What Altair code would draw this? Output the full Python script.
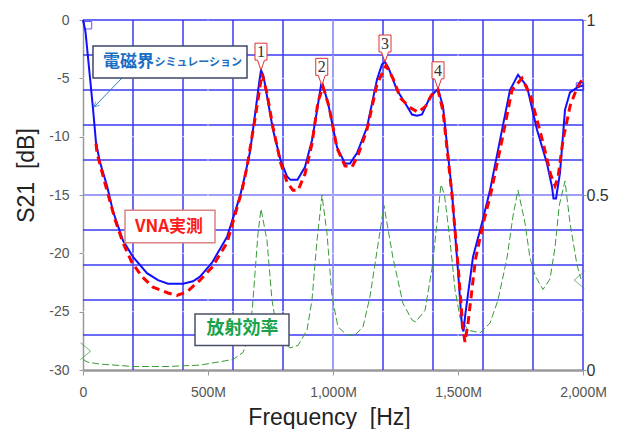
import altair as alt
import pandas as pd

# ---- Data ----
# Electromagnetic simulation (blue, S21 dB)
sim_f = [0, 10, 20, 30, 40, 52, 68, 96, 120, 160, 200, 256, 300, 340, 400, 440, 468, 516, 576,
         628, 648, 668, 690, 705, 712, 722, 740, 760, 790, 816, 830, 858, 888, 916, 935, 952,
         965, 980, 1016, 1048, 1068, 1096, 1136, 1176, 1196, 1208, 1222, 1256, 1296, 1316,
         1336, 1356, 1388, 1420, 1440, 1476, 1500, 1516, 1522, 1530, 1560, 1596, 1628, 1668,
         1708, 1740, 1776, 1816, 1856, 1876, 1882, 1892, 1908, 1928, 1948, 1976, 2000]
sim_db = [0, -1.0, -3.2, -5.4, -7.6, -10.5, -12.2, -14.2, -16.4, -18.9, -20.3, -21.7, -22.3,
          -22.6, -22.6, -22.4, -22.0, -20.8, -18.6, -15.1, -13.3, -11.3, -7.8, -5.3, -4.3,
          -4.8, -7.0, -9.4, -12.0, -13.4, -13.7, -13.7, -12.6, -10.3, -7.9, -5.6, -6.0, -7.1,
          -10.9, -12.3, -12.3, -11.4, -9.2, -5.1, -3.8, -3.6, -4.1, -6.0, -7.4, -8.1, -8.2,
          -8.1, -6.6, -5.9, -7.4, -14.8, -21.5, -26.3, -26.7, -25.1, -20.3, -17.4, -14.6,
          -10.3, -6.0, -4.7, -5.7, -9.4, -12.3, -14.3, -15.3, -15.3, -13.1, -7.7, -6.2, -5.8,
          -5.6]

# VNA measurement (red dashed, S21 dB) - visible from ~50 MHz
vna_f = [52, 56, 88, 128, 160, 196, 236, 280, 340, 376, 416, 468, 516, 576,
         636, 656, 690, 716, 735, 760, 790, 816, 840, 860, 888, 916, 940, 960, 985, 1016,
         1048, 1076, 1100, 1136, 1176, 1212, 1240, 1270, 1308, 1340, 1370, 1395, 1420, 1440,
         1476, 1500, 1520, 1528, 1540, 1570, 1600, 1630, 1676, 1716, 1756, 1790, 1840, 1870,
         1888, 1900, 1920, 1948, 1976, 2000]
vna_db = [-10.6, -11.4, -14.0, -17.1, -19.1, -20.8, -22.0, -22.9, -23.4,
          -23.6, -23.3, -22.3, -21.2, -19.1, -14.6, -12.6, -8.2, -4.6, -6.2, -9.2, -12.2,
          -13.9, -14.6, -14.6, -13.2, -10.6, -7.0, -5.7, -7.5, -11.0, -12.5, -12.6, -11.6,
          -9.4, -5.5, -3.9, -5.0, -6.7, -7.5, -7.9, -7.4, -6.4, -6.0, -7.8, -15.0, -21.0,
          -26.5, -27.6, -26.0, -20.5, -17.5, -15.0, -10.3, -6.0, -5.0, -6.5, -10.5, -13.2,
          -14.2, -13.5, -10.3, -7.4, -5.8, -5.0]

# Radiation efficiency (green dashed, right axis 0..1)
eff_f = [0, 20, 68, 200, 336, 468, 600, 640, 668, 680, 700, 712, 736, 756, 776, 800, 828,
         860, 896, 916, 936, 956, 976, 996, 1020, 1056, 1088, 1120, 1148, 1176, 1204, 1240,
         1280, 1316, 1330, 1368, 1396, 1416, 1432, 1446, 1468, 1488, 1508, 1540, 1588, 1628,
         1660, 1696, 1720, 1740, 1768, 1788, 1808, 1840, 1868, 1888, 1905, 1928, 1948, 1976,
         1992]
eff_v = [0.03, 0.022, 0.017, 0.01, 0.01, 0.014, 0.03, 0.05, 0.1, 0.2, 0.39, 0.46, 0.37, 0.2,
         0.114, 0.08, 0.063, 0.07, 0.114, 0.2, 0.37, 0.5, 0.39, 0.21, 0.123, 0.1, 0.1, 0.123,
         0.21, 0.34, 0.47, 0.32, 0.19, 0.143, 0.137, 0.17, 0.29, 0.42, 0.53, 0.5, 0.37, 0.23,
         0.15, 0.114, 0.106, 0.134, 0.2, 0.32, 0.44, 0.514, 0.42, 0.32, 0.27, 0.23, 0.26,
         0.35, 0.47, 0.54, 0.42, 0.30, 0.26]

# Axis ticks / grid
x_ticks = [0, 500, 1000, 1500, 2000]
y_ticks = [-30, -25, -20, -15, -10, -5, 0]
r_ticks = [0, 0.5, 1]
grid_f = [200, 400, 600, 800, 1000, 1200, 1400, 1600, 1800, 2000]
grid_db = [0, -3, -6, -9, -12, -15, -18, -21, -24, -27]
minor_f = [500, 1000, 1500]
minor_db = [-5, -10, -15, -20, -25]

# Peak callouts
peak_labels = ["1", "2", "3", "4"]
peak_f = [712, 955, 1208, 1420]
peak_db = [-4.3, -5.6, -3.6, -5.9]

# Series end markers
sim_mark_f = [20, 1988]
sim_mark_db = [-0.45, -5.7]
eff_mark_f = [10, 1985]
eff_mark_v = [0.054, 0.257]

# Annotation boxes (legend-like labels)
box_names = ["sim", "vna", "eff"]
box_f1 = [40, 168, 448]
box_f2 = [656, 528, 824]
box_db1 = [-2.23, -16.3, -25.2]
box_db2 = [-4.97, -19.1, -27.9]
arrow_f = [156]
arrow_f2 = [44]
arrow_db = [-4.97]
arrow_db2 = [-7.46]

# ---- Build chart ----
sim_df = pd.DataFrame({"f": sim_f, "db": sim_db})
vna_df = pd.DataFrame({"f": vna_f, "db": vna_db})
eff_df = pd.DataFrame({"f": eff_f, "eff": eff_v})

xs = alt.Scale(domain=[0, 2000], nice=False, zero=False)
ys = alt.Scale(domain=[-30, 0], nice=False, zero=False)
rs = alt.Scale(domain=[0, 1], nice=False, zero=False)

# x is shared: other layers leave the axis unspecified so the explicit one wins
Xn = alt.X("f:Q", scale=xs)
Yn = alt.Y("db:Q", scale=ys, axis=None)

GRID = "#3a3af5"

x_axis = alt.Axis(orient="bottom", values=x_ticks,
                  labelExpr="datum.value == 0 ? '0' : (datum.value == 500 ? '500M' : (datum.value == 1000 ? '1,000M' : (datum.value == 1500 ? '1,500M' : '2,000M')))",
                  title="Frequency\u00a0\u00a0[Hz]", grid=False, tickSize=5, tickColor="#999999",
                  domainColor="#999999", domainWidth=2.5, labelFont="Liberation Sans",
                  labelFontSize=14, labelColor="#555555", labelPadding=10, labelFlush=False,
                  titleFont="Liberation Sans", titleFontSize=23, titleFontWeight="normal",
                  titleColor="#222222", titleX=246, titleY=54, titleBaseline="alphabetic",
                  titleAlign="center")

grid_v = alt.Chart(pd.DataFrame({"f": grid_f})).mark_rule(color=GRID, strokeWidth=1.5).encode(
    x=alt.X("f:Q", scale=xs, axis=x_axis))
grid_h = alt.Chart(pd.DataFrame({"db": grid_db})).mark_rule(color=GRID, strokeWidth=1.5).encode(y=Yn)
white_v = alt.Chart(pd.DataFrame({"f": minor_f})).mark_rule(color="white", strokeWidth=1, opacity=0.7).encode(x=Xn)
white_h = alt.Chart(pd.DataFrame({"db": minor_db})).mark_rule(color="white", strokeWidth=1, opacity=0.7).encode(y=Yn)

# efficiency (right axis)
right_axis = alt.Axis(orient="right", values=r_ticks, labelExpr="'' + datum.value", grid=False,
                      domain=False, tickSize=3, tickColor="#999999", labelFont="Liberation Sans",
                      labelFontSize=16, labelColor="#333333", labelPadding=0, title="")
green = alt.Chart(eff_df).mark_line(color="#3a9a3a", strokeWidth=1, strokeDash=[7, 3]).encode(
    x=Xn, y=alt.Y("eff:Q", scale=rs, axis=right_axis))
green_marks = alt.Chart(pd.DataFrame({"f": eff_mark_f, "eff": eff_mark_v,
                                      "dir": ["r", "l"]})).mark_point(
    filled=False, color="#3a9a3a", strokeWidth=1, size=289).encode(
    x=Xn, y=alt.Y("eff:Q", scale=rs, axis=None),
    shape=alt.Shape("dir:N", scale=alt.Scale(domain=["r", "l"],
                    range=["M-0.6,-1L0.6,0L-0.6,1", "M0.6,-1L-0.6,0L0.6,1"]), legend=None))

y_axis = alt.Axis(orient="left", values=y_ticks, labelExpr="'' + datum.value",
                  title="S21\u00a0\u00a0[dB]", grid=False, tickSize=4, tickColor="#999999",
                  domainColor="#999999", domainWidth=1.5, labelFont="Liberation Sans",
                  labelFontSize=14, labelColor="#555555", labelPadding=10,
                  titleFont="Liberation Sans", titleFontSize=23, titleFontWeight="normal",
                  titleColor="#222222", titleX=-50, titleY=155, titleAngle=270,
                  titleBaseline="alphabetic", titleAlign="center")

blue = alt.Chart(sim_df).mark_line(color="#1010ff", strokeWidth=2).encode(
    x=Xn, y=alt.Y("db:Q", scale=ys, axis=y_axis))
red = alt.Chart(vna_df).mark_line(color="#ff0000", strokeWidth=3, strokeDash=[8, 5]).encode(x=Xn, y=Yn)
blue_marks = alt.Chart(pd.DataFrame({"f": sim_mark_f, "db": sim_mark_db})).mark_point(
    shape="square", filled=False, color="#1010ff", strokeWidth=1, size=55).encode(x=Xn, y=Yn)

peaks_df = pd.DataFrame({"f": peak_f, "db": peak_db, "t": peak_labels})
callout = alt.Chart(peaks_df).mark_point(
    shape="M0,0L-0.35,-1L-0.6,-1L-0.6,-2.7L0.6,-2.7L0.6,-1L0.35,-1Z",
    filled=True, fill="white", stroke="#e03030", strokeWidth=1, size=400, opacity=1).encode(x=Xn, y=Yn)
callout_txt = alt.Chart(peaks_df).mark_text(font="Liberation Serif", fontSize=16, color="#333333",
                                            dy=-18, baseline="middle").encode(x=Xn, y=Yn, text="t:N")

boxes_df = pd.DataFrame({"name": box_names, "f1": box_f1, "f2": box_f2, "d1": box_db1, "d2": box_db2})
boxes = alt.Chart(boxes_df).mark_rect(fill="white", strokeWidth=1.5).encode(
    x=alt.X("f1:Q", scale=xs), x2="f2:Q",
    y=alt.Y("d1:Q", scale=ys, axis=None), y2="d2:Q",
    stroke=alt.Stroke("name:N", scale=alt.Scale(domain=box_names,
                      range=["#3d4868", "#d88484", "#4a5068"]), legend=None))

arrow_df = pd.DataFrame({"f": arrow_f, "f2": arrow_f2, "db": arrow_db, "db2": arrow_db2})
arrow = alt.Chart(arrow_df).mark_rule(color="#2a7fd0", strokeWidth=1).encode(
    x=Xn, x2="f2:Q", y=Yn, y2="db2:Q")
arrow_head = alt.Chart(arrow_df).mark_point(shape="M-0.5,1L0,0L0.5,1", angle=224, filled=False,
                                            color="#2a7fd0", strokeWidth=1, size=100).encode(
    x=alt.X("f2:Q", scale=xs), y=alt.Y("db2:Q", scale=ys, axis=None))

JP = "Noto Sans CJK JP"
t1 = alt.Chart(pd.DataFrame({"f": [80], "db": [-3.6], "t": ["電磁界"]})).mark_text(
    font=JP, fontSize=17, fontWeight="bold", color="#1a6ec4", align="left", baseline="middle").encode(
    x=Xn, y=Yn, text="t:N")
t2 = alt.Chart(pd.DataFrame({"f": [286], "db": [-3.65], "t": ["シミュレーション"]})).mark_text(
    font=JP, fontSize=11, fontWeight="bold", color="#1a6ec4", align="left", baseline="middle").encode(
    x=Xn, y=Yn, text="t:N")
t3 = alt.Chart(pd.DataFrame({"f": [344], "db": [-17.75], "t": ["VNA実測"]})).mark_text(
    font=JP, fontSize=17, fontWeight="bold", color="#ff1a1a", align="center", baseline="middle").encode(
    x=Xn, y=Yn, text="t:N")
t4 = alt.Chart(pd.DataFrame({"f": [638], "db": [-26.5], "t": ["放射効率"]})).mark_text(
    font=JP, fontSize=18, fontWeight="bold", color="#1aa34a", align="center", baseline="middle").encode(
    x=Xn, y=Yn, text="t:N")

chart = alt.layer(
    grid_v, grid_h, white_v, white_h, green, green_marks, blue, red, blue_marks,
    callout, callout_txt, arrow, arrow_head, boxes, t1, t2, t3, t4
).resolve_scale(y="independent").properties(
    width=500, height=350,
    padding={"left": 75, "top": 12, "right": 26, "bottom": 59},
    autosize=alt.AutoSizeParams(type="none"),
    background="white",
).configure_view(strokeWidth=0)

chart.save("out.html", embed_options={"renderer": "svg", "actions": False})
